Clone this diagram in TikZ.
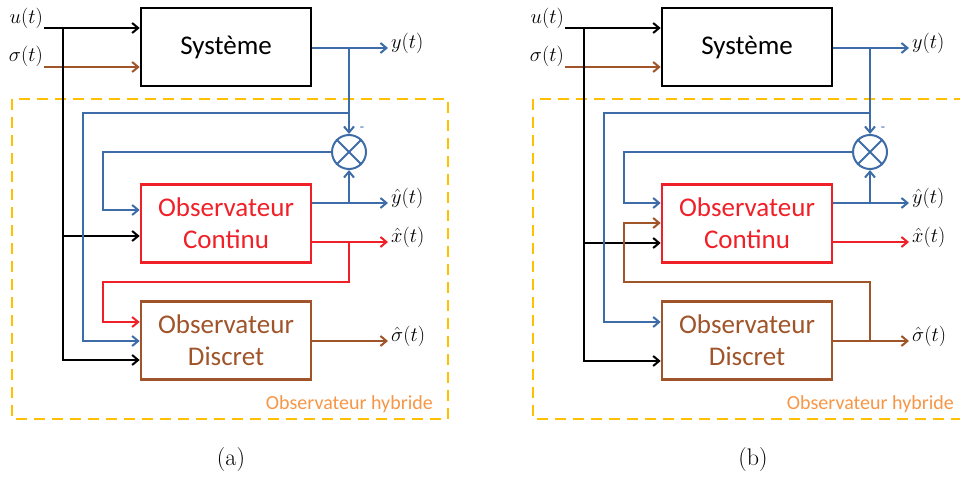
\RequirePackage{fix-cm}
\documentclass[tikz,border=0pt]{standalone}
\usepackage{fontspec}
\newfontfamily\boxfont{Carlito}
\usetikzlibrary{arrows.meta,calc}
\definecolor{cblue}{RGB}{62,108,168}
\definecolor{cred}{RGB}{240,32,40}
\definecolor{cbrown}{RGB}{160,84,42}
\definecolor{cdash}{RGB}{255,192,0}
\definecolor{corange}{RGB}{247,150,70}
\begin{document}
\begin{tikzpicture}[x=1pt,y=-1pt,
  sig/.style={line width=2pt},
  arr/.style={sig,-{Straight Barb[length=6pt,width=10pt,line width=2pt]}},
  blk/.style={draw,line width=2.6pt,minimum width=170pt,minimum height=78pt,inner sep=0pt,
    font=\boxfont\fontsize{27}{32}\selectfont,align=center},
  lbl/.style={inner sep=0pt,font=\fontsize{20.5}{24}\selectfont},
  sumnode/.style={draw=cblue,circle,line width=2pt,minimum size=34pt,inner sep=0pt},
  dframe/.style={draw=cdash,line width=2.6pt,dash pattern=on 11pt off 7pt},
  hyb/.style={anchor=base east,inner sep=0pt,text=corange,font=\boxfont\fontsize{20}{24}\selectfont},
  captxt/.style={inner sep=0pt,font=\fontsize{24}{28}\selectfont}
]
\clip (0,0) rectangle (960,476);
% ================= panel (a) =================
\draw[dframe] (12,99) rectangle (448,419);
\node[hyb] (hA) at (433,409) {Observateur hybride};
\node[blk] (sysA) at (226,47) {Système};
\node[blk,draw=cred,text=cred] (contA) at (226,223.5) {Observateur\\Continu};
\node[blk,draw=cbrown,text=cbrown] (discA) at (226,340.5) {Observateur\\Discret};
\node[sumnode] (cA) at (349,152) {};
\draw[cblue,line width=2pt] (cA.north east) -- (cA.south west) (cA.north west) -- (cA.south east);
\node[inner sep=0pt,text=cblue,font=\boxfont\fontsize{14}{16}\selectfont] (mA) at (362,129) {-};
\node[lbl,anchor=base east] (ulA) at (43,24) {$u(t)$};
\node[lbl,anchor=base east] (slA) at (43,62) {$\sigma(t)$};
\node[lbl,anchor=base west] (ylA) at (391,48.5) {$y(t)$};
\node[lbl,anchor=base west] (yhA) at (391,203.5) {$\hat{y}(t)$};
\node[lbl,anchor=base west] (xhA) at (391,242.5) {$\hat{x}(t)$};
\node[lbl,anchor=base west] (shA) at (391,341.5) {$\hat{\sigma}(t)$};
\node[captxt] (capA) at (231,460) {(a)};
\coordinate (uA) at (44,28);
\coordinate (sA) at (44,67);
\coordinate (juA) at (63,28);
\draw[arr] (uA) -- (uA -| sysA.west);
\draw[arr,cbrown] (sA) -- (sA -| sysA.west);
\draw[arr] (juA) |- (contA.west |- 0,236);
\draw[arr] (juA) |- (discA.west |- 0,360);
\coordinate (jyA) at (349,48);
\coordinate (jy2A) at (349,113);
\draw[arr,cblue] (sysA.east |- jyA) -- ([xshift=-3pt]ylA.west |- jyA);
\draw[arr,cblue] (jyA) -- (cA.north);
\draw[arr,cblue] (jy2A) -| (83,341) -- (discA.west |- 0,341);
\draw[arr,cblue] (cA.west) -| (103,210) -- (contA.west |- 0,210);
\coordinate (jyhA) at (349,203);
\draw[arr,cblue] (contA.east |- jyhA) -- ([xshift=-3pt]yhA.west |- jyhA);
\draw[arr,cblue] (jyhA) -- (cA.south);
\coordinate (jxA) at (349,242);
\draw[arr,cred] (contA.east |- jxA) -- ([xshift=-3pt]xhA.west |- jxA);
\draw[arr,cred] (jxA) -- (349,282) -| (103,322) -- (discA.west |- 0,322);
\coordinate (jsA) at (349,341);
\draw[arr,cbrown] (discA.east |- jsA) -- ([xshift=-3pt]shA.west |- jsA);
% ================= panel (b) =================
\begin{scope}[xshift=521pt]
\draw[dframe] (12,99) rectangle (448,419);
\node[hyb] (hB) at (433,409) {Observateur hybride};
\node[blk] (sysB) at (226,47) {Système};
\node[blk,draw=cred,text=cred] (contB) at (226,223.5) {Observateur\\Continu};
\node[blk,draw=cbrown,text=cbrown] (discB) at (226,340.5) {Observateur\\Discret};
\node[sumnode] (cB) at (349,152) {};
\draw[cblue,line width=2pt] (cB.north east) -- (cB.south west) (cB.north west) -- (cB.south east);
\node[inner sep=0pt,text=cblue,font=\boxfont\fontsize{14}{16}\selectfont] (mB) at (362,129) {-};
\node[lbl,anchor=base east] (ulB) at (43,24) {$u(t)$};
\node[lbl,anchor=base east] (slB) at (43,62) {$\sigma(t)$};
\node[lbl,anchor=base west] (ylB) at (391,48.5) {$y(t)$};
\node[lbl,anchor=base west] (yhB) at (391,203.5) {$\hat{y}(t)$};
\node[lbl,anchor=base west] (xhB) at (391,242.5) {$\hat{x}(t)$};
\node[lbl,anchor=base west] (shB) at (391,341.5) {$\hat{\sigma}(t)$};
\node[captxt] (capB) at (232,460) {(b)};
\coordinate (uB) at (44,28);
\coordinate (sB) at (44,67);
\coordinate (juB) at (63,28);
\draw[arr] (uB) -- (uB -| sysB.west);
\draw[arr,cbrown] (sB) -- (sB -| sysB.west);
\draw[arr] (juB) |- (contB.west |- 0,243);
\draw[arr] (juB) |- (discB.west |- 0,361);
\coordinate (jyB) at (349,48);
\coordinate (jy2B) at (349,113);
\draw[arr,cblue] (sysB.east |- jyB) -- ([xshift=-3pt]ylB.west |- jyB);
\draw[arr,cblue] (jyB) -- (cB.north);
\draw[arr,cblue] (jy2B) -| (83,322) -- (discB.west |- 0,322);
\draw[arr,cblue] (cB.west) -| (103,203) -- (contB.west |- 0,203);
\coordinate (jyhB) at (349,203);
\draw[arr,cblue] (contB.east |- jyhB) -- ([xshift=-3pt]yhB.west |- jyhB);
\draw[arr,cblue] (jyhB) -- (cB.south);
\draw[arr,cred] (contB.east |- 0,242) -- ([xshift=-3pt]xhB.west |- 0,242);
\coordinate (jsB) at (349,341);
\draw[arr,cbrown] (discB.east |- jsB) -- ([xshift=-3pt]shB.west |- jsB);
\draw[arr,cbrown] (jsB) -- (349,282) -| (103,223) -- (contB.west |- 0,223);
\end{scope}
\end{tikzpicture}
\end{document}
